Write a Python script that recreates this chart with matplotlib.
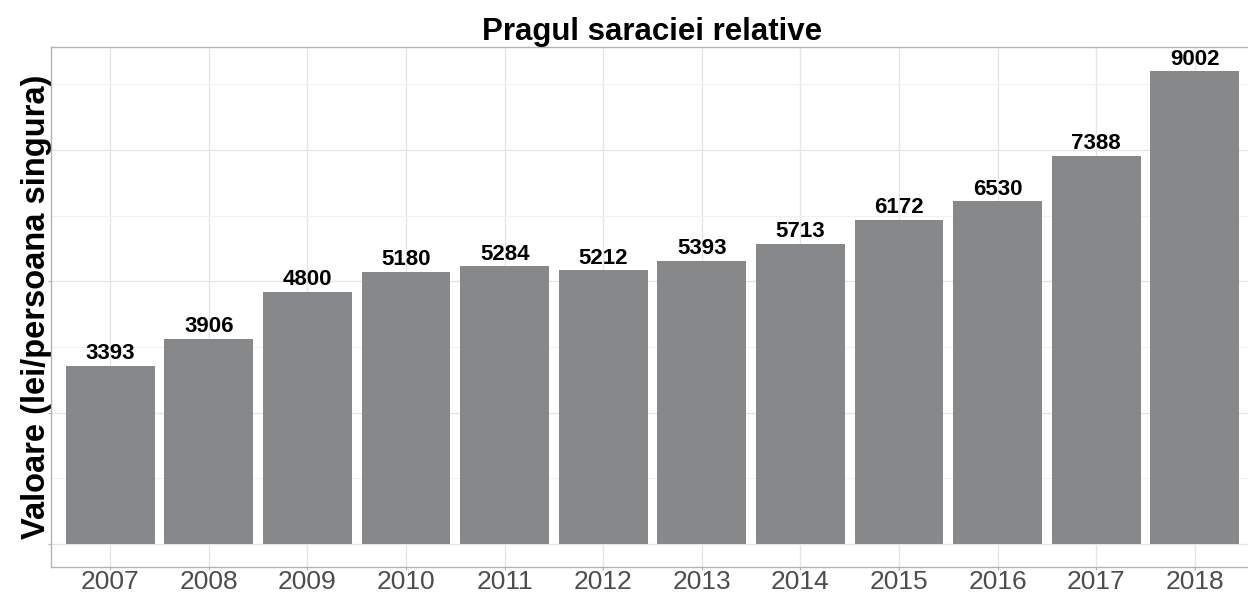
import matplotlib.pyplot as plt
from matplotlib.ticker import MultipleLocator

plt.rcParams["font.family"] = ["Liberation Sans", "DejaVu Sans"]

years = ["2007", "2008", "2009", "2010", "2011", "2012",
         "2013", "2014", "2015", "2016", "2017", "2018"]
values = [3393, 3906, 4800, 5180, 5284, 5212, 5393, 5713, 6172, 6530, 7388, 9002]

fig = plt.figure(figsize=(12.48, 5.93), dpi=100)
# panel runs slightly past the right edge, as in the reference
ax = fig.add_axes([51 / 1248, 26 / 593, 1203 / 1248, 520 / 593])

x = list(range(1, len(years) + 1))
ax.bar(x, values, width=0.9, color="#87888a", zorder=2)

for xi, v in zip(x, values):
    ax.annotate(str(v), (xi, v), xytext=(0, 1), textcoords="offset points",
                ha="center", va="bottom", fontsize=16, fontweight="bold",
                color="black", zorder=3)

ax.set_xlim(0.4, 12.6)
ax.set_ylim(-438, 9459)
ax.set_xticks(x)
ax.set_xticklabels(years, fontsize=19, color="#4d4d4d")

ax.yaxis.set_major_locator(MultipleLocator(2500))
ax.yaxis.set_minor_locator(MultipleLocator(1250))
ax.set_yticklabels([])
ax.grid(which="major", color="#e6e6e6", linewidth=1.0, zorder=0)
ax.grid(which="minor", axis="y", color="#f0f0f0", linewidth=0.8, zorder=0)
ax.tick_params(axis="both", which="major", length=2, color="#b3b3b3", width=0.8)
ax.tick_params(axis="x", pad=0)
ax.tick_params(axis="y", which="minor", length=0)
ax.set_axisbelow(True)

for side in ax.spines.values():
    side.set_color("#b3b3b3")
    side.set_linewidth(1.0)

ax.set_ylabel("Valoare (lei/persoana singura)", fontsize=23.5, fontweight="bold",
              labelpad=-6)
ax.set_title("Pragul saraciei relative", fontsize=22.5, fontweight="bold", pad=3)

fig.savefig("out.png", dpi=100)
